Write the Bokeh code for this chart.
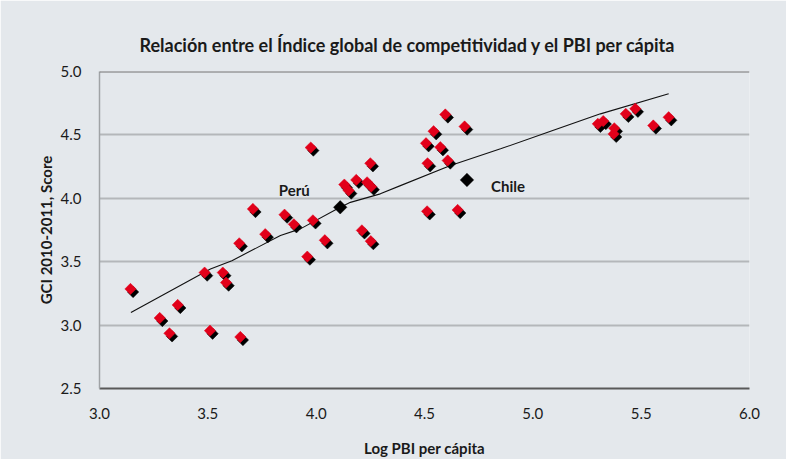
import numpy as np
from bokeh.plotting import figure
from bokeh.models import (ColumnDataSource, FixedTicker, PrintfTickFormatter,
                          Range1d, Span, Label)
from bokeh.transform import dodge
from bokeh.embed import file_html
from bokeh.resources import INLINE

# ---- data ----
log_pbi = [3.143, 3.485, 3.569, 3.584, 3.361, 3.278, 3.323, 3.510, 3.650,
           3.645, 3.765, 3.708, 3.854, 3.897, 3.959, 3.975, 3.985, 4.040,
           4.130, 4.185, 4.150, 4.235, 4.254, 4.250, 4.211, 4.252,
           4.596, 4.685, 4.542, 4.507, 4.573, 4.514, 4.607, 4.512, 4.653,
           5.300, 5.325, 5.376, 5.373, 5.429, 5.473, 5.556, 5.627]
gci = [3.285, 3.414, 3.414, 3.335, 3.159, 3.056, 2.935, 2.956, 2.906,
       3.645, 3.717, 3.916, 3.871, 3.795, 3.540, 4.400, 3.826, 3.669,
       4.108, 4.145, 4.061, 4.126, 4.092, 4.276, 3.747, 3.662,
       4.661, 4.566, 4.529, 4.434, 4.403, 4.276, 4.298, 3.897, 3.908,
       4.587, 4.609, 4.552, 4.508, 4.666, 4.706, 4.574, 4.639]

hl_names = ["Perú", "Chile"]
hl_x = [4.111, 4.696]
hl_y = [3.929, 4.145]

trend_x = [3.145, 3.512, 3.611, 3.835, 3.927, 4.096, 4.158, 4.296, 4.389,
           4.620, 4.851, 5.082, 5.312, 5.627]
trend_y = [3.100, 3.443, 3.508, 3.706, 3.759, 3.916, 3.968, 4.035, 4.100,
           4.258, 4.390, 4.529, 4.666, 4.824]

x_ticks = [3.0, 3.5, 4.0, 4.5, 5.0, 5.5, 6.0]
y_ticks = [2.5, 3.0, 3.5, 4.0, 4.5, 5.0]

title = "Relación entre el Índice global de competitividad y el PBI per cápita"
x_title = "Log PBI per cápita"
y_title = "GCI 2010-2011, Score"

# ---- styling ----
BG = "#e4e8ec"
RED = "#e2001a"
FONT = "Lato"

p = figure(width=786, height=459,
           x_range=Range1d(3.0, 6.0), y_range=Range1d(2.5, 5.0),
           output_backend="svg", toolbar_location=None,
           min_border_left=99, min_border_right=37,
           min_border_top=71, min_border_bottom=70,
           background_fill_color=BG, border_fill_color=BG,
           outline_line_color=None)

p.title.text = title
p.title.align = "left"
p.title.offset = 40
p.title.standoff = 32
p.title.text_font = FONT
p.title.text_font_size = "18px"
p.title.text_font_style = "bold"
p.title.text_color = "#1a1a1a"

# axes
p.xaxis.ticker = FixedTicker(ticks=x_ticks)
p.yaxis.ticker = FixedTicker(ticks=y_ticks)
p.xaxis.formatter = PrintfTickFormatter(format="%.1f")
p.yaxis.formatter = PrintfTickFormatter(format="%.1f")
for ax in (p.xaxis, p.yaxis):
    ax.major_tick_line_color = None
    ax.minor_tick_line_color = None
    ax.major_label_text_font = FONT
    ax.major_label_text_font_size = "15px"
    ax.major_label_text_color = "#1a1a1a"
    ax.axis_label_text_font = FONT
    ax.axis_label_text_font_size = "15px"
    ax.axis_label_text_font_style = "bold"
    ax.axis_label_text_color = "#1a1a1a"

p.xaxis.axis_label = x_title
p.yaxis.axis_label = y_title
p.xaxis.axis_line_color = "#595959"
p.xaxis.axis_line_width = 2
p.yaxis.axis_line_color = "#a0a3a6"
p.yaxis.axis_line_width = 1.5
p.xaxis.major_label_standoff = 13
p.yaxis.major_label_standoff = 12
p.xaxis.axis_label_standoff = 17
p.yaxis.axis_label_standoff = 3

p.xgrid.grid_line_color = None
p.ygrid.ticker = FixedTicker(ticks=y_ticks[1:-1])
p.ygrid.grid_line_color = "#b4b7ba"
p.ygrid.grid_line_width = 2
p.add_layout(Span(location=p.y_range.end, dimension="width",
                  line_color="#737373", line_width=2))

# trend line
p.line(trend_x, trend_y, line_color="#111111", line_width=1.1)

# points with shadow
src = ColumnDataSource(dict(x=log_pbi, y=gci))
p.scatter(dodge("x", 0.012, range=p.x_range), dodge("y", -0.024, range=p.y_range),
          source=src, marker="square", size=8, angle=np.pi / 4,
          fill_color="#000000", line_color="#000000", line_width=0.5)
p.scatter("x", "y", source=src, marker="square", size=8, angle=np.pi / 4,
          fill_color=RED, line_color=RED, line_width=0.5)

# highlighted countries
p.scatter(hl_x, hl_y, marker="square", size=9.5, angle=np.pi / 4,
          fill_color="#000000", line_color="#000000", line_width=0.5)
offsets = [(-46, 17), (41, -6)]
for name, x, y, (dx, dy) in zip(hl_names, hl_x, hl_y, offsets):
    p.add_layout(Label(x=x, y=y, text=name, x_offset=dx, y_offset=dy,
                       text_align="center", text_baseline="middle",
                       text_font=FONT, text_font_size="15px",
                       text_font_style="bold", text_color="#1a1a1a"))

open("out.html", "w").write(file_html(p, INLINE))
